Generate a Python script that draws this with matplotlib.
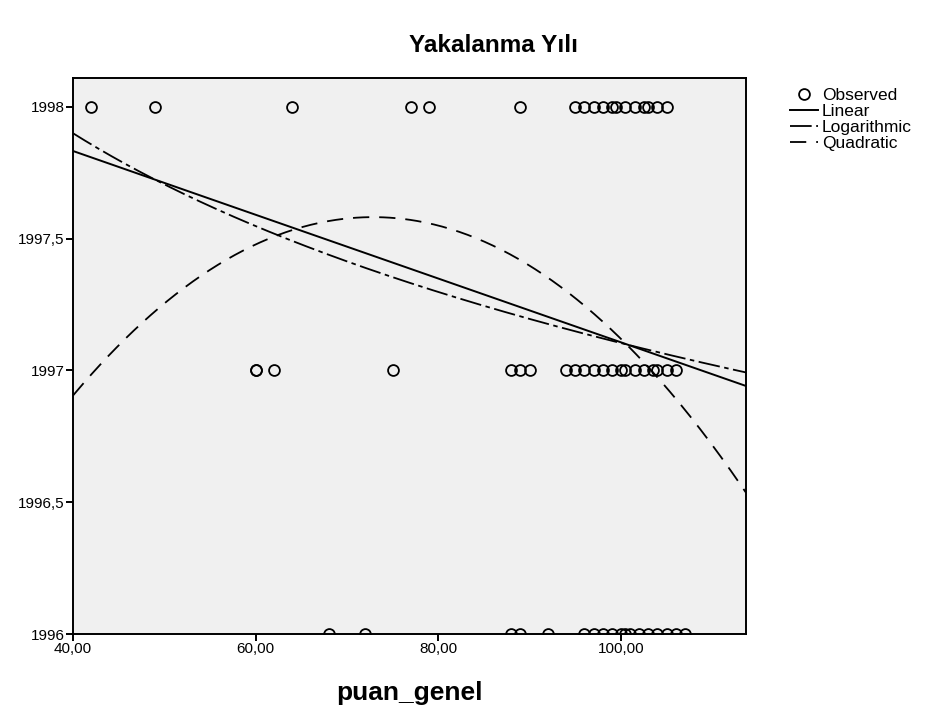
import numpy as np
import matplotlib
matplotlib.use("Agg")
from matplotlib import pyplot as plt
from matplotlib.ticker import FuncFormatter, FixedLocator

plt.rcParams['font.family'] = ['Liberation Sans', 'DejaVu Sans']

# Observed points (puan_genel, Yakalanma Yili)
x_1998 = [42, 49, 64, 77, 79, 89, 95, 96, 97, 98, 99, 99.5, 100.5, 101.5, 102.5, 103, 104, 105]
x_1997 = [60, 60, 62, 75, 88, 89, 90, 94, 95, 96, 97, 98, 99, 100, 100.5, 101.5, 102.5, 103.5, 104, 105, 106]
x_1996 = [68, 72, 88, 89, 92, 96, 97, 98, 99, 100, 100.5, 101, 102, 103, 104, 105, 106, 107]

# Fitted curves (coefficients)
lin_a, lin_b = 1998.317, -0.0121             # y = a + b*x
log_a, log_b = 2001.106, -0.869              # y = a + b*ln(x)
quad_k, quad_h, quad_c = 1997.582, 72.86, -0.000627   # y = k + c*(x-h)^2

xmin, xmax = 40, 113.7
ymin, ymax = 1996, 1998.11

fig = plt.figure(figsize=(9.27, 7.15), dpi=100)
ax = fig.add_axes([73/927, 1-634/715, (746-73)/927, (634-78)/715])
ax.set_facecolor('#f0f0f0')

xs = np.linspace(xmin, xmax, 400)
obs_x = x_1998 + x_1997 + x_1996
obs_y = [1998]*len(x_1998) + [1997]*len(x_1997) + [1996]*len(x_1996)
ax.plot(obs_x, obs_y, 'o', mfc='none', mec='black', ms=7.8, mew=1.3,
        label='Observed', zorder=3)
ax.plot(xs, lin_a + lin_b*xs, '-', color='black', lw=1.4, label='Linear')
ax.plot(xs, log_a + log_b*np.log(xs), color='black', lw=1.3,
        linestyle=(0, (12, 2.5, 2.5, 2.5)), label='Logarithmic')
ax.plot(xs, quad_k + quad_c*(xs-quad_h)**2, color='black', lw=1.3,
        linestyle=(0, (9, 5.5)), label='Quadratic')

ax.set_xlim(xmin, xmax)
ax.set_ylim(ymin, ymax)
ax.xaxis.set_major_locator(FixedLocator([40, 60, 80, 100]))
ax.yaxis.set_major_locator(FixedLocator([1996, 1996.5, 1997, 1997.5, 1998]))
ax.xaxis.set_major_formatter(FuncFormatter(lambda v, p: f"{v:.2f}".replace('.', ',')))
ax.yaxis.set_major_formatter(FuncFormatter(lambda v, p: (f"{v:g}").replace('.', ',')))
ax.tick_params(direction='out', length=5, width=1.4, pad=1, labelsize=11, colors='black')
for s in ax.spines.values():
    s.set_linewidth(1.4)

ax.set_xlabel('puan_genel', fontsize=19, fontweight='bold', labelpad=18)
fig.text(494/927, 1-45/715, 'Yakalanma Yılı', ha='center', va='center',
         fontsize=17.5, fontweight='bold')

leg = ax.legend(loc='upper left', bbox_to_anchor=(790/927, 1-88/715),
                bbox_transform=fig.transFigure, frameon=False,
                fontsize=12.5, handlelength=1.6, handletextpad=0.25,
                labelspacing=0.05, borderaxespad=0, borderpad=0)

plt.savefig('out.png', dpi=100)
